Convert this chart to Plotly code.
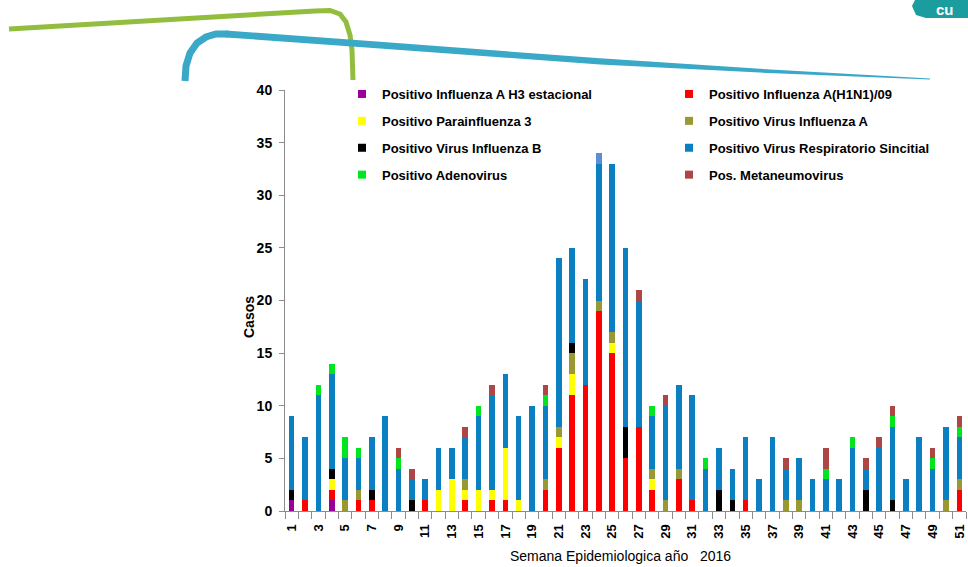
import plotly.graph_objects as go

# ---------------- data ----------------
weeks = list(range(1, 52))
tick_weeks = list(range(1, 52, 2))
tick_labels = [str(w) for w in tick_weeks]

h3_estacional = [1,0,0,1,0,0,0,0,0,0,
                 0,0,0,0,0,0,0,0,0,0,
                 0,0,0,0,0,0,0,0,0,0,
                 0,0,0,0,0,0,0,0,0,0,
                 0,0,0,0,0,0,0,0,0,0,0]
h1n1 = [0,1,0,1,0,1,1,0,0,0,
        1,0,0,1,0,1,1,0,0,2,
        6,11,12,19,15,5,8,2,0,3,
        1,0,0,0,1,0,0,0,0,0,
        0,0,0,0,0,0,0,0,0,0,2]
parainfluenza3 = [0,0,0,1,0,0,0,0,0,0,
                  0,2,3,1,2,1,5,1,0,0,
                  1,2,0,0,1,0,0,1,0,0,
                  0,0,0,0,0,0,0,0,0,0,
                  0,0,0,0,0,0,0,0,0,0,0]
influenza_a = [0,0,0,0,1,1,0,0,0,0,
               0,0,0,1,0,0,0,0,0,1,
               1,2,0,1,1,0,0,1,1,1,
               0,0,0,0,0,0,0,1,1,0,
               0,0,0,0,0,0,0,0,0,1,1]
influenza_b = [1,0,0,1,0,0,1,0,0,1,
               0,0,0,0,0,0,0,0,0,0,
               0,1,0,0,0,3,0,0,0,0,
               0,0,2,1,0,0,0,0,0,0,
               0,0,0,2,0,1,0,0,0,0,0]
vrs = [7,6,11,9,4,3,5,9,4,2,
       2,4,3,4,7,9,7,8,10,7,
       16,9,10,13,16,17,12,5,9,8,
       10,4,4,3,6,3,7,3,4,3,
       3,3,6,2,6,7,3,7,4,7,4]
adenovirus = [0,0,1,1,2,1,0,0,1,0,
              0,0,0,0,1,0,0,0,0,1,
              0,0,0,0,0,0,0,1,0,0,
              0,1,0,0,0,0,0,0,0,0,
              1,0,1,0,0,1,0,0,1,0,1]
metaneumovirus = [0,0,0,0,0,0,0,0,1,1,
                  0,0,0,1,0,1,0,0,0,1,
                  0,0,0,0,0,0,1,0,1,0,
                  0,0,0,0,0,0,0,1,0,0,
                  2,0,0,1,1,1,0,0,1,0,1]
otros = [0,0,0,0,0,0,0,0,0,0,
         0,0,0,0,0,0,0,0,0,0,
         0,0,0,1,0,0,0,0,0,0,
         0,0,0,0,0,0,0,0,0,0,
         0,0,0,0,0,0,0,0,0,0,0]

series = [
    ("Positivo Influenza A H3 estacional", h3_estacional, "#990099", "legend"),
    ("Positivo Influenza A(H1N1)/09", h1n1, "#ff0000", "legend2"),
    ("Positivo Parainfluenza 3", parainfluenza3, "#ffff00", "legend"),
    ("Positivo Virus Influenza A", influenza_a, "#999933", "legend2"),
    ("Positivo Virus Influenza B", influenza_b, "#000000", "legend"),
    ("Positivo Virus Respiratorio Sincitial", vrs, "#0a80c2", "legend2"),
    ("Positivo Adenovirus", adenovirus, "#00e61e", "legend"),
    ("Pos. Metaneumovirus", metaneumovirus, "#ae4646", "legend2"),
]

FONT = "Liberation Sans, Arial, sans-serif"

fig = go.Figure()
for name, vals, color, leg in series:
    fig.add_trace(go.Bar(x=weeks, y=vals, name=name, width=0.42,
                         marker=dict(color=color, line=dict(width=0)),
                         showlegend=False))
fig.add_trace(go.Bar(x=weeks, y=otros, name="Otros", width=0.42,
                     marker=dict(color="#5b8fd2", line=dict(width=0)),
                     showlegend=False))
# legend entries (small square markers)
for name, vals, color, leg in series:
    fig.add_trace(go.Scatter(x=[None], y=[None], mode="markers", name=name,
                             marker=dict(symbol="square", size=8, color=color),
                             legend=leg, legendgroup=name, showlegend=True))

# ---------------- layout ----------------
W, H = 968, 567
ML, MR, MT, MB = 285, 2, 90, 56
PW, PH = W - ML - MR, H - MT - MB

def px(x):
    return (x - ML) / PW

def py(y):
    return (H - MB - y) / PH

def path(points, close=False):
    s = "M " + " L ".join(f"{px(x):.5f},{py(y):.5f}" for x, y in points)
    return s + (" Z" if close else "")

shapes = []
# green decorative line
green_pts = [(9, 29), (315, 11), (330, 10.5), (340, 14), (346, 22), (350, 35), (352, 50), (353, 80)]
shapes.append(dict(type="path", xref="paper", yref="paper", path=path(green_pts),
                   line=dict(color="#93bd3e", width=5), layer="below"))
# blue decorative arc
blue_arc = [(185, 81), (186, 66), (190, 53), (197, 43), (206, 37), (216, 34), (228, 34)]
shapes.append(dict(type="path", xref="paper", yref="paper", path=path(blue_arc),
                   line=dict(color="#3aa8c7", width=7), layer="below"))
# blue tapering band
top = [(226, 30.5), (380, 41.8), (600, 58.3), (760, 68.8), (930, 78.6)]
bot = [(930, 79.4), (760, 72.6), (600, 64.6), (380, 48.4), (226, 37.5)]
shapes.append(dict(type="path", xref="paper", yref="paper", path=path(top + bot, close=True),
                   fillcolor="#3aa8c7", line=dict(width=0), layer="below"))
# logo fragment top-right
logo = [(975, -5), (926, -5), (916, -2), (912, 6), (916, 15), (926, 18), (975, 18)]
shapes.append(dict(type="path", xref="paper", yref="paper", path=path(logo, close=True),
                   fillcolor="#1b9c9e", line=dict(width=0), layer="below"))

annotations = [
    dict(text="cu", x=px(945), y=py(9), xref="paper", yref="paper", showarrow=False,
         font=dict(family=FONT, size=15, color="white", weight="bold"),
         xanchor="center", yanchor="middle"),
    dict(text="Semana Epidemiologica año\u00a0\u00a0 2016", x=px(620), y=py(556),
         xref="paper", yref="paper", showarrow=False,
         font=dict(family=FONT, size=14, color="#000000"),
         xanchor="center", yanchor="middle"),
    dict(text="Casos", x=px(249), y=py(317), xref="paper", yref="paper", showarrow=False,
         textangle=-90, font=dict(family=FONT, size=14, color="#000000", weight="bold"),
         xanchor="center", yanchor="middle"),
]

legend_common = dict(
    yanchor="top", xanchor="left", y=py(79),
    bgcolor="rgba(0,0,0,0)", borderwidth=0,
    font=dict(family=FONT, size=13, color="#000000", weight="bold"),
    tracegroupgap=7, orientation="v",
)

fig.update_layout(
    width=W, height=H,
    margin=dict(l=ML, r=MR, t=MT, b=MB),
    paper_bgcolor="white", plot_bgcolor="rgba(0,0,0,0)",
    barmode="stack",
    font=dict(family=FONT, color="#000000"),
    shapes=shapes,
    annotations=annotations,
    legend=dict(x=px(342), **legend_common),
    legend2=dict(x=px(669), **legend_common),
    xaxis=dict(
        range=[0.5, 51.5], tickmode="array", tickvals=tick_weeks, ticktext=tick_labels,
        tickangle=-90, tickfont=dict(family=FONT, size=13, weight="bold"),
        ticks="outside", ticklen=7, tickcolor="rgba(0,0,0,0)",
        showline=True, linecolor="#8c8c8c", linewidth=1,
        showgrid=False, zeroline=False,
        minor=dict(tickmode="array", tickvals=[k + 0.5 for k in range(0, 52)],
                   ticks="outside", ticklen=7, tickcolor="#8c8c8c", showgrid=False),
    ),
    yaxis=dict(
        range=[0, 40], tickmode="linear", tick0=0, dtick=5,
        tickfont=dict(family=FONT, size=14, weight="bold"),
        ticks="outside", ticklen=5, tickcolor="#8c8c8c",
        showline=True, linecolor="#8c8c8c", linewidth=1,
        showgrid=False, zeroline=False, ticklabelstandoff=4,
    ),
)

fig.write_html("out.html")
